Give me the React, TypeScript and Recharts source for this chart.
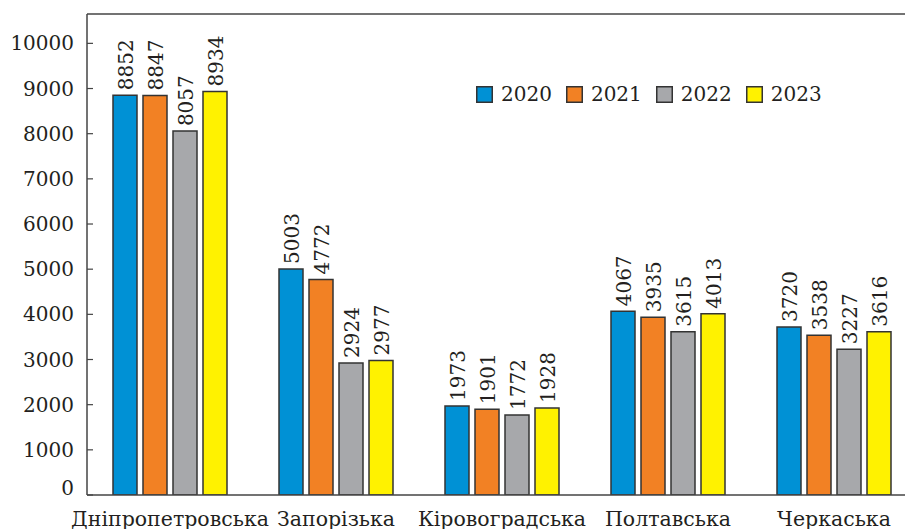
import { BarChart, Bar, XAxis, YAxis, Legend, LabelList, ReferenceLine } from 'recharts'

const categories = ['Дніпропетровська', 'Запорізька', 'Кіровоградська', 'Полтавська', 'Черкаська']
const years = ['2020', '2021', '2022', '2023']
const v2020 = [8852, 5003, 1973, 4067, 3720]
const v2021 = [8847, 4772, 1901, 3935, 3538]
const v2022 = [8057, 2924, 1772, 3615, 3227]
const v2023 = [8934, 2977, 1928, 4013, 3616]
const yTicks = [0, 1000, 2000, 3000, 4000, 5000, 6000, 7000, 8000, 9000, 10000]
const colors = ['#0091d5', '#f28124', '#a7a8ab', '#fff200']

const data = categories.map((name, i) => ({
  name,
  '2020': v2020[i],
  '2021': v2021[i],
  '2022': v2022[i],
  '2023': v2023[i],
}))

const FONT = 'DejaVu Serif'
const INK = '#231f20'

function ValueLabel(props: any) {
  const { x, y, width, value } = props
  const cx = x + width / 2 + 1
  const ty = y - 5
  return (
    <text
      x={cx}
      y={ty}
      transform={`rotate(-90 ${cx} ${ty})`}
      textAnchor="start"
      dominantBaseline="central"
      style={{ fontFamily: FONT, fontSize: 20 }}
      fill={INK}
    >
      {value}
    </text>
  )
}

function YTick(props: any) {
  const { x, y, payload } = props
  const dy = payload.value === 0 ? -7 : 0
  return (
    <text x={x} y={y + dy} textAnchor="end" dominantBaseline="central" style={{ fontFamily: FONT, fontSize: 20 }} fill={INK}>
      {payload.value}
    </text>
  )
}

function XTick(props: any) {
  const { x, y, payload } = props
  return (
    <text x={x} y={y} textAnchor="middle" dominantBaseline="central" style={{ fontFamily: FONT, fontSize: 20.5 }} fill={INK}>
      {payload.value}
    </text>
  )
}

function LegendBox() {
  return (
    <div style={{ display: 'flex', alignItems: 'center', fontFamily: FONT, fontSize: 20, color: INK }}>
      {years.map((yr, i) => (
        <div key={yr} style={{ display: 'flex', alignItems: 'center', marginRight: i < 3 ? 14 : 0 }}>
          <svg width={17} height={17} style={{ marginRight: 8 }}>
            <rect x={0.75} y={0.75} width={15.5} height={15.5} fill={colors[i]} stroke="#333" strokeWidth={1.5} />
          </svg>
          <span style={{ lineHeight: '24px' }}>{yr}</span>
        </div>
      ))}
    </div>
  )
}

export default function App() {
  return (
    <div style={{ position: 'fixed', left: 0, top: 0, width: 905, height: 529, overflow: 'hidden', background: '#fff' }}>
      <BarChart
        width={930}
        height={529}
        data={data}
        margin={{ top: 14, right: 13, bottom: 0, left: 0 }}
        barCategoryGap={26}
        barGap={6}
      >
        <XAxis
          dataKey="name"
          height={34}
          tickLine={false}
          axisLine={{ stroke: '#444', strokeWidth: 1.5 }}
          tick={<XTick />}
          tickMargin={18}
          interval={0}
        />
        <YAxis
          width={87}
          domain={[0, 10650]}
          ticks={yTicks}
          allowDataOverflow
          axisLine={{ stroke: '#444', strokeWidth: 1.5 }}
          tickLine={{ stroke: '#444', strokeWidth: 1.2 }}
          tickSize={-6}
          tickMargin={19}
          tick={<YTick />}
        />
        <ReferenceLine y={10650} stroke="#444" strokeWidth={1.5} />
        <Legend
          layout="horizontal"
          verticalAlign="middle"
          align="center"
          wrapperStyle={{ left: 476, top: 82, width: 'auto' }}
          content={() => <LegendBox />}
        />
        {years.map((yr, i) => (
          <Bar
            key={yr}
            dataKey={yr}
            fill={colors[i]}
            stroke="#333"
            strokeWidth={1.5}
            isAnimationActive={false}
          >
            <LabelList dataKey={yr} content={<ValueLabel />} />
          </Bar>
        ))}
      </BarChart>
    </div>
  )
}
